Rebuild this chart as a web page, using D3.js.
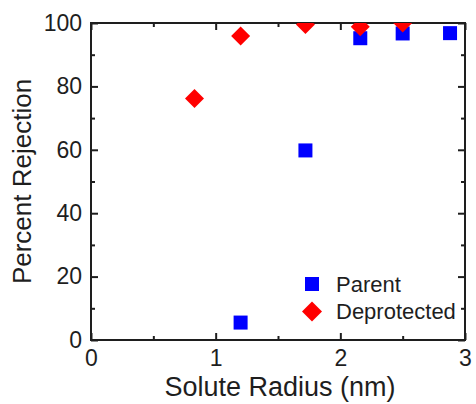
<!DOCTYPE html>
<html>
<head>
<meta charset="utf-8">
<script src="https://cdn.jsdelivr.net/npm/d3@7"></script>
<style>
  html, body { margin: 0; padding: 0; background: #fff; }
  svg { display: block; font-family: "Liberation Sans", Arial, sans-serif; }
</style>
</head>
<body>
<svg id="chart"></svg>
<script>
// data
const parentRadius = [1.2, 1.72, 2.16, 2.5, 2.88];
const parentRejection = [5.5, 59.8, 95.2, 96.7, 96.8];
const deprotRadius = [0.83, 1.2, 1.72, 2.16, 2.5];
const deprotRejection = [76.2, 95.9, 99.5, 98.8, 100];
const xTicks = [0, 1, 2, 3];
const yTicks = [0, 20, 40, 60, 80, 100];
const legendLabels = ['Parent', 'Deprotected'];

const width = 476;
const height = 404;
const margin = { top: 23, right: 11, bottom: 64, left: 91 };
const ink = '#1e1e1e';

const svg = d3.select('#chart').attr('width', width).attr('height', height);

const x = d3.scaleLinear().domain([0, 3]).range([margin.left, width - margin.right]);
const y = d3.scaleLinear().domain([0, 100]).range([height - margin.bottom, margin.top]);

svg.append('clipPath').attr('id', 'plot-clip')
  .append('rect')
  .attr('x', x(0)).attr('y', y(100))
  .attr('width', x(3) - x(0)).attr('height', y(0) - y(100));

// axes, ticks pointing inward
function styleAxis(g) {
  g.select('.domain').remove();
  g.selectAll('.tick line').attr('stroke', ink).attr('stroke-width', 2);
  g.selectAll('.tick text').attr('fill', ink).style('font-size', '23px');
}

const xMinor = d3.range(0.5, 3, 1);
const yMinor = d3.range(10, 100, 20);

svg.append('g')
  .attr('transform', `translate(0,${y(0)})`)
  .call(d3.axisBottom(x).tickValues(xTicks).tickFormat(d3.format('d')).tickSizeInner(-7).tickPadding(12))
  .call(styleAxis)
  .call(g => g.selectAll('.tick text').attr('dy', '0.71em').attr('y', 10));

svg.append('g')
  .attr('transform', `translate(0,${y(0)})`)
  .call(d3.axisBottom(x).tickValues(xMinor).tickFormat('').tickSizeInner(-4))
  .call(styleAxis);

svg.append('g')
  .attr('transform', `translate(0,${y(100)})`)
  .call(d3.axisTop(x).tickValues(xTicks).tickFormat('').tickSizeInner(-7))
  .call(styleAxis);

svg.append('g')
  .attr('transform', `translate(0,${y(100)})`)
  .call(d3.axisTop(x).tickValues(xMinor).tickFormat('').tickSizeInner(-4))
  .call(styleAxis);

svg.append('g')
  .attr('transform', `translate(${x(0)},0)`)
  .call(d3.axisLeft(y).tickValues(yTicks).tickSizeInner(-7).tickPadding(10))
  .call(styleAxis)
  .call(g => g.selectAll('.tick text').attr('x', -9));

svg.append('g')
  .attr('transform', `translate(${x(0)},0)`)
  .call(d3.axisLeft(y).tickValues(yMinor).tickFormat('').tickSizeInner(-4))
  .call(styleAxis);

svg.append('g')
  .attr('transform', `translate(${x(3)},0)`)
  .call(d3.axisRight(y).tickValues(yTicks).tickFormat('').tickSizeInner(-7))
  .call(styleAxis);

svg.append('g')
  .attr('transform', `translate(${x(3)},0)`)
  .call(d3.axisRight(y).tickValues(yMinor).tickFormat('').tickSizeInner(-4))
  .call(styleAxis);

// frame
svg.append('rect')
  .attr('x', x(0)).attr('y', y(100))
  .attr('width', x(3) - x(0)).attr('height', y(0) - y(100))
  .attr('fill', 'none').attr('stroke', ink).attr('stroke-width', 2);

// markers
const diamond = (cx, cy, r) => `M${cx},${cy - r}L${cx + r},${cy}L${cx},${cy + r}L${cx - r},${cy}Z`;
const sq = 14;

const marks = svg.append('g').attr('clip-path', 'url(#plot-clip)');

marks.selectAll('.parent')
  .data(parentRadius)
  .enter().append('rect')
  .attr('class', 'parent')
  .attr('x', d => x(d) - sq / 2)
  .attr('y', (d, i) => y(parentRejection[i]) - sq / 2)
  .attr('width', sq)
  .attr('height', sq)
  .attr('fill', '#0000ff');

marks.selectAll('.deprot')
  .data(deprotRadius)
  .enter().append('path')
  .attr('class', 'deprot')
  .attr('d', (d, i) => diamond(x(d), y(deprotRejection[i]), 9.5))
  .attr('fill', '#ff0000');

// legend
const legend = svg.append('g').attr('transform', 'translate(312,284)');
legend.append('rect')
  .attr('x', -sq / 2).attr('y', -sq / 2)
  .attr('width', sq).attr('height', sq)
  .attr('fill', '#0000ff');
legend.append('path')
  .attr('d', diamond(0, 27.5, 10))
  .attr('fill', '#ff0000');
legend.selectAll('.legend-label')
  .data(legendLabels)
  .enter().append('text')
  .attr('class', 'legend-label')
  .attr('x', 24)
  .attr('y', (d, i) => 8 + i * 27)
  .attr('fill', ink)
  .style('font-size', '22px')
  .text(d => d);

// axis titles
svg.append('text')
  .attr('x', (x(0) + x(3)) / 2 + 2)
  .attr('y', 396)
  .attr('text-anchor', 'middle')
  .attr('fill', ink)
  .style('font-size', '27px')
  .text('Solute Radius (nm)');

svg.append('text')
  .attr('transform', `translate(31,${(y(0) + y(100)) / 2}) rotate(-90)`)
  .attr('text-anchor', 'middle')
  .attr('fill', ink)
  .style('font-size', '26px')
  .text('Percent Rejection');
</script>
</body>
</html>
